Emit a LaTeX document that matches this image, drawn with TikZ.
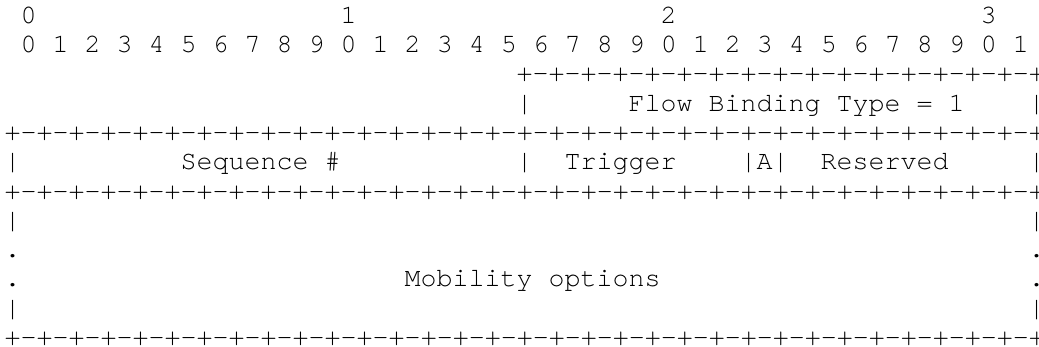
\documentclass[tikz,border=0pt]{standalone}
\usepackage{fontspec}
\newfontfamily\asciimono{TeX Gyre Cursor}
\usetikzlibrary{positioning}
\frenchspacing

\begin{document}
\begin{tikzpicture}[
        x=16pt, y=-29.3pt,
        cell/.style={anchor=base west, inner sep=0pt, outer sep=0pt,
            font=\asciimono\fontsize{26.67pt}{29.3pt}\selectfont},
        rule/.style={cell}
    ]
    \useasboundingbox (-4.7pt,-6pt) rectangle ++(1039pt,-347pt);

    % Bit numbering
    \node[cell] (tens0) at (1,1) {0};
    \node[cell] (tens1) at (21,1) {1};
    \node[cell] (tens2) at (41,1) {2};
    \node[cell] (tens3) at (61,1) {3};
    \node[cell] (units) at (1,2) {0 1 2 3 4 5 6 7 8 9 0 1 2 3 4 5 6 7 8 9 0 1 2 3 4 5 6 7 8 9 0 1};

    % Flow Binding Type
    \node[rule] (fbtop) at (32,3) {+-+-+-+-+-+-+-+-+-+-+-+-+-+-+-+-+};
    \node[cell] (fbleft) at (32,4) {|};
    \node[cell] (fbtype) at (39,4) {Flow Binding Type = 1};
    \node[cell] (fbright) at (64,4) {|};

    % Sequence / Trigger / A / Reserved
    \node[rule] (seqtop) at (0,5) {+-+-+-+-+-+-+-+-+-+-+-+-+-+-+-+-+-+-+-+-+-+-+-+-+-+-+-+-+-+-+-+-+};
    \node[cell] (seqleft) at (0,6) {|};
    \node[cell] (seqnum) at (11,6) {Sequence \#};
    \node[cell] (seqmid) at (32,6) {|};
    \node[cell] (trigger) at (35,6) {Trigger};
    \node[cell] (aflag) at (46,6) {|A|};
    \node[cell] (reserved) at (51,6) {Reserved};
    \node[cell] (seqright) at (64,6) {|};

    % Mobility options
    \node[rule] (mobtop) at (0,7) {+-+-+-+-+-+-+-+-+-+-+-+-+-+-+-+-+-+-+-+-+-+-+-+-+-+-+-+-+-+-+-+-+};
    \node[cell] (mobl1) at (0,8) {|};
    \node[cell] (mobr1) at (64,8) {|};
    \node[cell] (mobl2) at (0,9) {.};
    \node[cell] (mobr2) at (64,9) {.};
    \node[cell] (mobl3) at (0,10) {.};
    \node[cell] (mobopts) at (25,10) {Mobility options};
    \node[cell] (mobr3) at (64,10) {.};
    \node[cell] (mobl4) at (0,11) {|};
    \node[cell] (mobr4) at (64,11) {|};
    \node[rule] (mobbot) at (0,12) {+-+-+-+-+-+-+-+-+-+-+-+-+-+-+-+-+-+-+-+-+-+-+-+-+-+-+-+-+-+-+-+-+};

\end{tikzpicture}
\end{document}
